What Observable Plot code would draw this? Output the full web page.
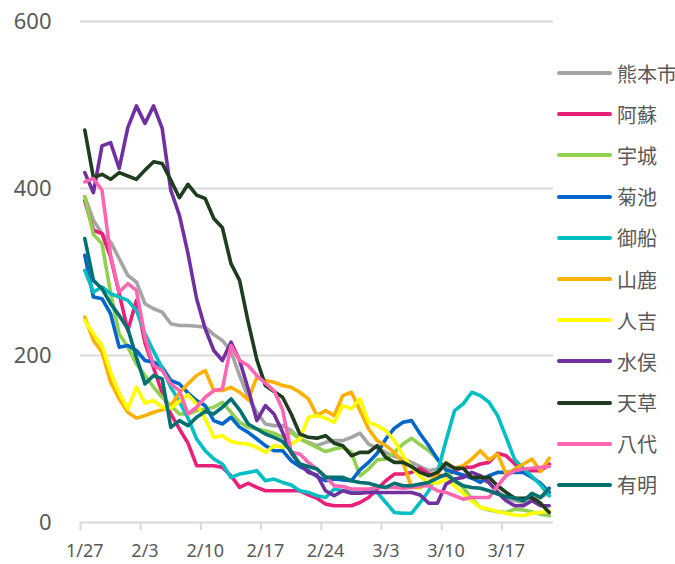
<!DOCTYPE html>
<html><head><meta charset="utf-8">
<script src="https://cdn.jsdelivr.net/npm/d3@7"></script>
<script src="https://cdn.jsdelivr.net/npm/@observablehq/plot@0.6"></script>
<style>
html,body{margin:0;padding:0;background:#fff;overflow:hidden;}
#wrap{position:relative;width:675px;height:564px;}
#legend{position:absolute;left:557px;top:52.5px;font-family:"Noto Sans CJK JP",sans-serif;font-size:20px;color:#595959;}
.item{display:flex;align-items:center;height:41.2px;white-space:nowrap;}
.sw{width:55px;height:4px;border-radius:2px;margin-right:5px;flex:none;}
</style></head><body><div id="wrap"><div id="legend"></div></div>
<script>
const regions = ["熊本市","阿蘇","宇城","菊池","御船","山鹿","人吉","水俣","天草","八代","有明"];
const colors = ["#a5a5a5","#e8207a","#92d050","#0066cc","#00bfc4","#ffb000","#ffff00","#7030a0","#1e3d1e","#ff66b2","#007070"];
const tickLabels = ["1/27","2/3","2/10","2/17","2/24","3/3","3/10","3/17"];

const kumamoto = [390,362,346,336,316,296,288,262,256,252, 238,236,236,235,234,225,218,205,176,150, 132,118,116,116,110,100,96,92,96,98, 98,102,107,94,89,84,79,76,72,67, 62,64,66,60,56,54,52,47,37,30, 26,24,26,30,36];
const aso = [385,350,346,318,274,230,266,215,185,155, 130,112,95,68,68,68,66,56,42,47, 42,38,38,38,38,38,33,29,22,20, 20,20,24,30,40,50,58,58,60,65, 58,56,56,62,66,66,70,72,83,80, 70,63,62,62,70];
const uki = [390,345,334,275,226,210,190,176,162,150, 140,130,130,134,136,138,144,132,120,114, 112,110,107,102,108,100,95,90,85,88, 90,84,56,64,75,76,84,94,101,93, 86,76,62,50,42,28,18,15,13,12, 16,15,13,10,8];
const kikuchi = [320,270,268,250,210,212,206,194,192,186, 170,166,155,146,140,122,118,126,114,108, 100,92,86,86,74,67,62,55,50,52, 51,50,63,72,83,100,113,120,122,106, 92,76,63,60,57,53,48,56,60,60, 60,60,54,47,36];
const mifune = [302,276,282,274,270,266,254,226,205,185, 162,145,125,100,86,76,70,54,58,60, 62,50,52,48,45,38,36,32,30,40, 38,38,38,38,36,24,12,11,11,24, 38,60,98,134,142,156,152,144,128,102, 75,65,55,45,32];
const yamaga = [246,218,204,168,148,132,125,128,132,135, 140,155,166,176,182,158,158,162,156,147, 174,170,168,164,162,156,148,128,134,128, 152,156,134,112,98,92,84,72,42,42, 48,58,72,65,68,76,86,75,82,58, 64,70,76,61,77];
const hitoyoshi = [242,226,212,180,155,136,162,143,146,138, 137,145,153,142,124,102,104,97,95,94, 90,84,92,90,94,100,126,128,125,120, 140,136,148,120,116,110,98,80,66,55, 48,47,52,44,35,26,18,16,13,11, 9,8,11,12,14];
const minamata = [419,395,451,455,424,473,499,478,499,472, 398,368,322,268,232,206,194,216,194,160, 122,140,130,108,83,70,60,57,38,32, 38,35,35,36,36,36,36,36,36,33, 23,23,46,52,54,60,56,48,36,26, 20,20,26,20,20];
const amakusa = [470,413,417,411,419,415,411,422,432,430, 410,389,405,392,388,364,353,310,290,240, 195,164,157,150,130,106,102,101,104,95, 92,80,84,84,92,78,72,72,67,60, 56,60,71,65,65,54,54,54,44,36, 29,29,30,23,12];
const yatsushiro = [408,412,398,320,276,286,278,222,188,182, 166,158,130,138,150,158,160,212,194,188, 176,167,158,135,84,82,72,64,55,44, 43,40,40,40,42,42,42,41,42,44, 44,38,36,32,28,30,30,30,44,56, 62,64,65,66,67];
const ariake = [340,290,280,262,248,232,198,166,176,172, 114,122,116,126,133,130,138,148,135,118, 112,106,102,97,85,70,67,64,54,54, 54,50,48,47,44,42,47,44,44,46, 48,53,58,50,44,42,41,38,34,31, 29,26,35,30,41];

const series = [kumamoto, aso, uki, kikuchi, mifune, yamaga, hitoyoshi, minamata, amakusa, yatsushiro, ariake];
const rows = [];
series.forEach((vals, i) => vals.forEach((v, d) => rows.push({region: regions[i], d, v})));
const tickPos = tickLabels.map((_, i) => i * 7 - 0.5);

const chart = Plot.plot({
  width: 675, height: 564,
  marginLeft: 80, marginRight: 122, marginTop: 21, marginBottom: 42,
  x: {domain: [-0.5, 54.5], axis: null, label: null},
  y: {domain: [0, 600], axis: null, label: null},
  color: {domain: regions, range: colors},
  style: {fontFamily: "'Noto Sans', sans-serif", color: "#595959", background: "#fff"},
  marks: [
    Plot.ruleY([0, 200, 400, 600], {stroke: "#d9d9d9", strokeWidth: 2}),
    Plot.axisX({ticks: tickPos, tickSize: 8, stroke: "#d9d9d9", strokeWidth: 2, label: null, tickFormat: () => ""}),
    Plot.axisX({ticks: tickPos, tickSize: 0, tickPadding: 22, dx: 4.3, fontSize: 18, fill: "#595959", label: null,
      tickFormat: t => tickLabels[Math.round((t + 0.5) / 7)]}),
    Plot.axisY({ticks: [0, 200, 400, 600], tickSize: 0, tickPadding: 29, fontSize: 22, fill: "#595959", label: null, tickFormat: d => String(d)}),
    Plot.line(rows, {x: "d", y: "v", z: "region", stroke: "region", strokeWidth: 3.6, strokeLinejoin: "round", strokeLinecap: "round"})
  ]
});
const wrap = document.getElementById("wrap");
wrap.insertBefore(chart, wrap.firstChild);

const legend = document.getElementById("legend");
regions.forEach((r, i) => {
  const it = document.createElement("div");
  it.className = "item";
  const sw = document.createElement("span");
  sw.className = "sw";
  sw.style.background = colors[i];
  const tx = document.createElement("span");
  tx.textContent = r;
  it.appendChild(sw); it.appendChild(tx);
  legend.appendChild(it);
});
</script></body></html>
